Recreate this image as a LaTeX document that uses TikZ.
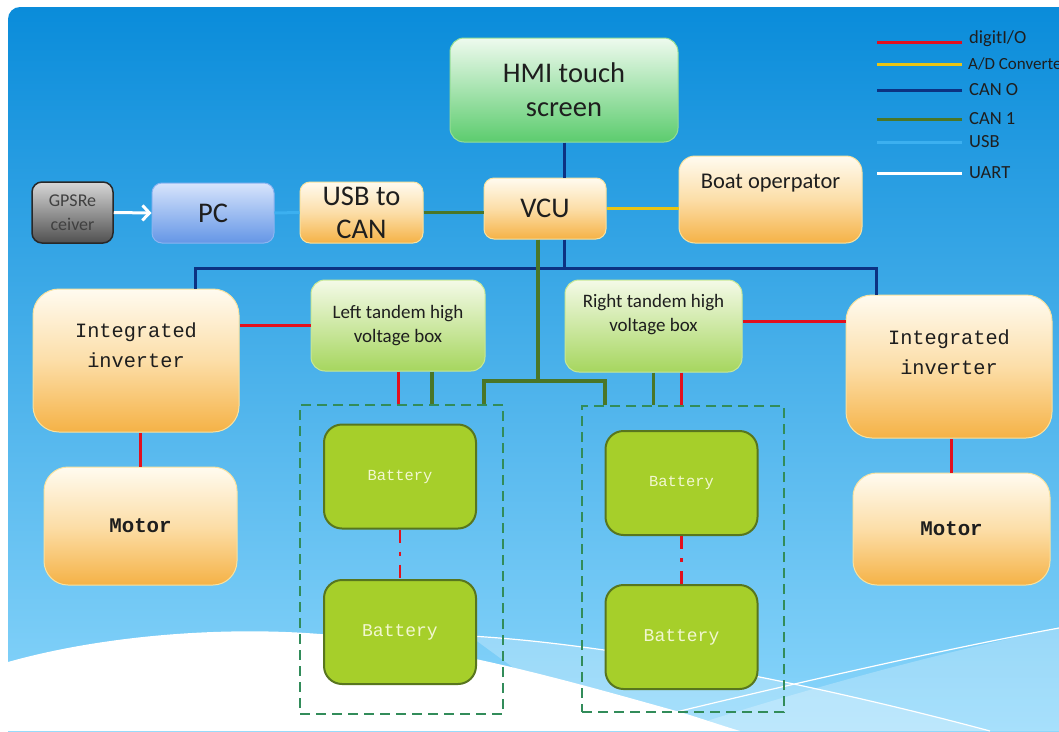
\documentclass[tikz,border=0pt]{standalone}
\usepackage{fontspec}
\setmainfont{Carlito}
\newfontfamily\simfont{Liberation Mono}
\usetikzlibrary{arrows.meta}

\definecolor{bgtop}{RGB}{10,140,218}
\definecolor{bgbot}{RGB}{138,214,251}
\definecolor{ink}{RGB}{30,30,30}
\definecolor{dioRed}{RGB}{226,16,30}
\definecolor{adYellow}{RGB}{232,196,20}
\definecolor{canBlue}{RGB}{12,50,130}
\definecolor{canGreen}{RGB}{74,118,40}
\definecolor{usbBlue}{RGB}{60,176,240}
\definecolor{packGreen}{RGB}{50,140,90}
\definecolor{batFill}{RGB}{166,207,42}
\definecolor{batLine}{RGB}{88,118,30}
\definecolor{batText}{RGB}{242,247,208}
\definecolor{orTop}{RGB}{255,251,240}
\definecolor{orMid}{RGB}{252,222,168}
\definecolor{orBot}{RGB}{245,178,70}
\definecolor{orLine}{RGB}{248,226,160}
\definecolor{hmiTop}{RGB}{238,250,238}
\definecolor{hmiBot}{RGB}{92,204,110}
\definecolor{hmiLine}{RGB}{150,222,150}
\definecolor{hvTop}{RGB}{244,250,232}
\definecolor{hvBot}{RGB}{166,214,94}
\definecolor{hvLine}{RGB}{200,232,150}
\definecolor{pcTop}{RGB}{215,228,252}
\definecolor{pcBot}{RGB}{100,150,230}
\definecolor{pcLine}{RGB}{140,180,240}
\definecolor{gpsTop}{RGB}{215,215,215}
\definecolor{gpsBot}{RGB}{80,80,80}
\definecolor{gpsLine}{RGB}{40,40,40}

\begin{document}
\begin{tikzpicture}[x=1pt, y=-1pt, text=ink,
    box/.style={rectangle, inner sep=0pt, align=center},
    orangebox/.style={box, draw=orLine, line width=1pt, top color=orTop, bottom color=orBot, middle color=orMid},
    hmibox/.style={box, draw=hmiLine, line width=1pt, top color=hmiTop, bottom color=hmiBot},
    hvbox/.style={box, draw=hvLine, line width=1pt, top color=hvTop, bottom color=hvBot, rounded corners=14pt, minimum height=91pt},
    pcbox/.style={box, draw=pcLine, line width=1pt, top color=pcTop, bottom color=pcBot},
    gpsbox/.style={box, draw=gpsLine, line width=1.5pt, top color=gpsTop, bottom color=gpsBot},
    batbox/.style={box, draw=batLine, line width=2pt, fill=batFill, rounded corners=18pt, minimum width=152pt, minimum height=104pt, text=batText},
    packbox/.style={box, draw=packGreen, line width=1.8pt, dash pattern=on 10pt off 6pt},
    bigtext/.style={font=\fontsize{28.5}{34}\selectfont},
    midtext/.style={font=\fontsize{22.5}{27}\selectfont},
    hvtext/.style={align=center, font=\fontsize{19}{24}\selectfont},
    legend/.style={anchor=west, inner sep=0pt, font=\fontsize{18.5}{22}\selectfont},
    monotext/.style={align=center, font=\simfont\fontsize{20.3}{30}\selectfont},
    dio/.style={draw=dioRed, line width=3pt},
    adc/.style={draw=adYellow, line width=2.5pt},
    canzero/.style={draw=canBlue, line width=3pt},
    canone/.style={draw=canGreen, line width=3.5pt},
    usb/.style={draw=usbBlue, line width=3pt},
    uart/.style={draw=white, line width=3pt}]

    \useasboundingbox[fill=white] (0,0) rectangle (1059,731);

    % Background
    \begin{scope}
        \clip[rounded corners=12pt] (8,7) rectangle (1100,780);
        \shade[top color=bgtop, bottom color=bgbot] (8,7) rectangle (1059,731);
        \fill[white, opacity=0.25] (470,636) .. controls (600,643) and (800,680) .. (990,731) -- (600,731) -- cycle;
        \fill[white, opacity=0.25] (676,731) .. controls (800,690) and (950,650) .. (1059,628) -- (1059,731) -- cycle;
        \fill[white] (8,731) -- (8,662) .. controls (100,636) and (220,626) .. (320,634) .. controls (450,645) and (600,690) .. (680,712) .. controls (700,718) and (720,725) .. (740,731) -- cycle;
        \draw[white, line width=1.2pt] (470,636) .. controls (600,643) and (800,680) .. (990,731);
        \draw[white, line width=1.2pt] (676,712) .. controls (800,682) and (950,648) .. (1059,628);
    \end{scope}

    % Control units
    \node(100) at (564,90) [hmibox, rounded corners=14pt, minimum width=228pt, minimum height=104pt, bigtext] {HMI touch\\screen};
    \node(101) at (545,208.5) [orangebox, rounded corners=10pt, minimum width=122pt, minimum height=61pt, bigtext] {VCU};
    \node(102) at (361.5,212.5) [orangebox, rounded corners=10pt, minimum width=123pt, minimum height=61pt, font=\fontsize{28.5}{33}\selectfont] {USB to\\CAN};
    \node(103) at (770.5,199.5) [orangebox, rounded corners=16pt, minimum width=183pt, minimum height=87pt] {};
    \node(106) at (770.5,183) [midtext] {Boat operpator};
    \node(104) at (72.5,212.5) [gpsbox, rounded corners=10pt, minimum width=81pt, minimum height=61pt, text=black!75, font=\fontsize{18}{24}\selectfont] {GPSRe\\ceiver};
    \node(105) at (213,213) [pcbox, rounded corners=10pt, minimum width=122pt, minimum height=60pt, bigtext] {PC};

    \draw[canzero] (100.south) -- (100.south |- 101.north);
    \draw[uart, -{Straight Barb[length=7pt, width=15pt]}] (104.east) -- (105.west);
    \draw[usb] (105.east) -- (102.west);
    \draw[canone] (102.east) -- (102.east -| 101.west);
    \draw[adc] (101.east) -- (101.east -| 103.west);

    % Left drive
    \node(200) at (136,360.5) [orangebox, rounded corners=26pt, minimum width=206pt, minimum height=143pt] {};
    \node(206) at (136,345) [monotext] {Integrated\\inverter};
    \node(201) at (140.5,526) [orangebox, rounded corners=24pt, minimum width=193pt, minimum height=118pt, font=\simfont\bfseries\fontsize{20.8}{25}\selectfont] {Motor};
    \node(202) at (398,325.5) [hvbox, minimum width=174pt, hvtext] {Left tandem high\\voltage box};
    \node(203) at (401.5,559.5) [packbox, minimum width=203pt, minimum height=309pt] {};
    \node(204) at (400,476.5) [batbox, font=\simfont\fontsize{15.4}{18}\selectfont] {Battery};
    \node(205) at (400,632) [batbox, font=\simfont\fontsize{18}{22}\selectfont] {Battery};

    \draw[dio] (201.north) -- (201.north |- 200.south);
    \draw[dio] (202.west) -- (202.west -| 200.east);
    \draw[dio] (202.south) -- (202.south |- 203.north);
    \draw[canone] ([xshift=34pt]202.south) -- ([xshift=34pt]202.south |- 203.north);
    \draw[dio, line width=2.5pt, dash pattern=on 13pt off 9pt on 4pt off 9pt] (204.south) -- (205.north);

    % Right drive
    \node(300) at (949,366.5) [orangebox, rounded corners=26pt, minimum width=206pt, minimum height=143pt] {};
    \node(306) at (949,352) [monotext] {Integrated\\inverter};
    \node(301) at (951.5,529) [orangebox, rounded corners=24pt, minimum width=197pt, minimum height=112pt, font=\simfont\bfseries\fontsize{20.8}{25}\selectfont] {Motor};
    \node(302) at (653.5,326) [hvbox, minimum width=177pt, minimum height=92pt] {};
    \node(307) at (653.5,315) [hvtext] {Right tandem high\\voltage box};
    \node(303) at (683,559) [packbox, minimum width=202pt, minimum height=306pt] {};
    \node(304) at (681.5,483) [batbox, font=\simfont\fontsize{15.4}{18}\selectfont] {Battery};
    \node(305) at (681.5,637) [batbox, font=\simfont\fontsize{18}{22}\selectfont] {Battery};

    \draw[dio] (301.north) -- (301.north |- 300.south);
    \draw[dio] ([yshift=5pt]302.east) -- ([yshift=5pt]302.east -| 300.west);
    \draw[canone] (302.south) -- (302.south |- 303.north);
    \draw[dio] ([xshift=28pt]302.south) -- ([xshift=28pt]302.south |- 303.north);
    \draw[dio, line width=2.5pt, dash pattern=on 13pt off 9pt on 4pt off 9pt] (304.south) -- (305.north);

    % CAN buses
    \coordinate(110) at (195,268);
    \coordinate(111) at (876,268);
    \coordinate(112) at (538,381);
    \coordinate(113) at (484,381);
    \coordinate(114) at (605,381);
    \draw[canzero] (100.south |- 101.south) -- (100.south |- 110);
    \draw[canzero] (110 |- 200.north) -- (110) -- (111) -- (111 |- 300.north);
    \draw[canone] (112 |- 101.south) -- (112);
    \draw[canone] (113 |- 203.north) -- (113) -- (114) -- (114 |- 303.north);

    % Legend
    \node(401) at (969,39) [legend] {digitI/O};
    \node(402) at (968,64) [legend, font=\fontsize{17}{20}\selectfont] {A/D Converter};
    \node(403) at (969,90) [legend] {CAN O};
    \node(404) at (969,119) [legend] {CAN 1};
    \node(405) at (969,142) [legend] {USB};
    \node(406) at (969,173) [legend] {UART};
    \draw[dio] (962,42) -- (877,42);
    \draw[adc, line width=3pt] ([xshift=-6pt]402.west) -- ++(-85,0);
    \draw[canzero] ([xshift=-7pt]403.west) -- ++(-85,0);
    \draw[canone, line width=3pt] ([xshift=-7pt]404.west) -- ++(-85,0);
    \draw[usb] ([xshift=-7pt]405.west) -- ++(-85,0);
    \draw[uart] ([xshift=-7pt]406.west) -- ++(-85,0);

\end{tikzpicture}
\end{document}
